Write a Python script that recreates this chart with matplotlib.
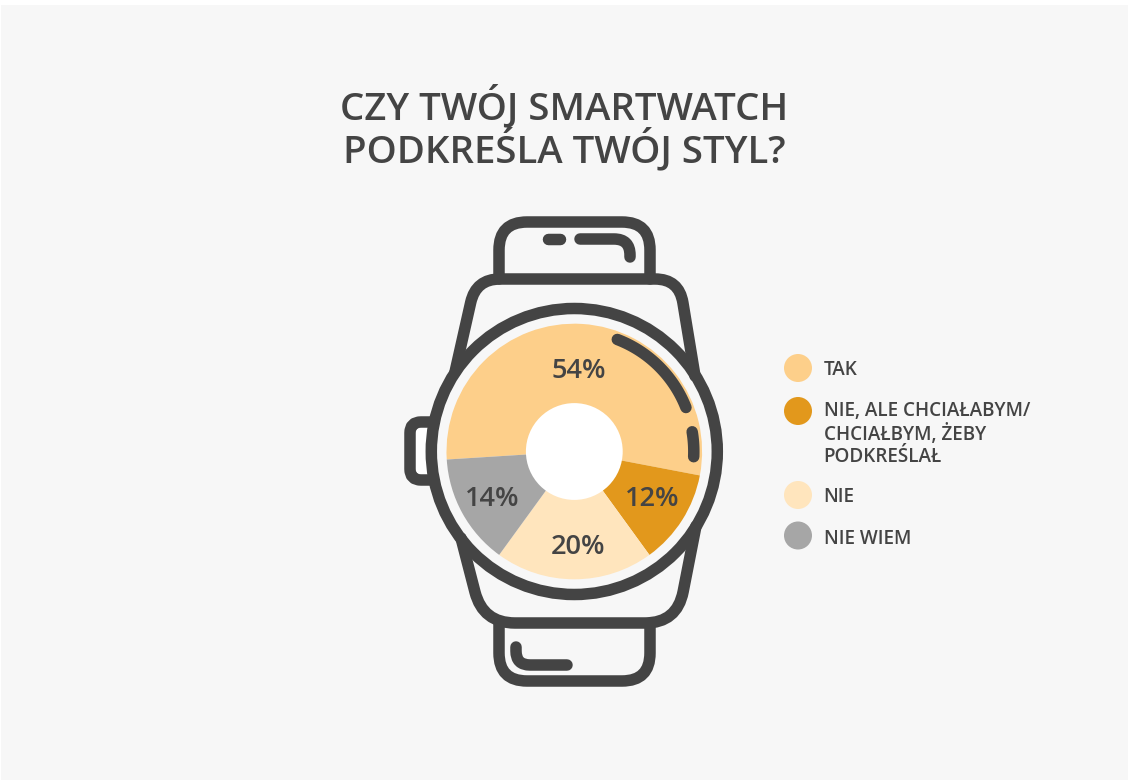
import matplotlib
matplotlib.use("Agg")
import matplotlib.pyplot as plt
from matplotlib.patches import Circle, PathPatch, Rectangle
from matplotlib.path import Path
import numpy as np

categories = ["TAK", "NIE, ALE CHCIAŁABYM/\nCHCIAŁBYM, ŻEBY\nPODKREŚLAŁ", "NIE", "NIE WIEM"]
values = [54, 12, 20, 14]
colors = ["#FDCF8A", "#E2981C", "#FFE5BD", "#A6A6A6"]
title = "CZY TWÓJ SMARTWATCH\nPODKREŚLA TWÓJ STYL?"
dark = "#444444"
W, H = 1128, 780

plt.rcParams['font.family'] = ['Open Sans', 'DejaVu Sans']
fig = plt.figure(figsize=(W/100, H/100), dpi=100, facecolor="white")
ax = fig.add_axes([0, 0, 1, 1])
ax.set_xlim(0, W); ax.set_ylim(H, 0); ax.axis("off")
ax.add_patch(Rectangle((1, 5), W-1, H-5, fc="#F7F7F7", ec="none", zorder=0))

cx, cy, R, hole = 574.3, 451.5, 127.8, 48.4
wedges, _ = ax.pie(values, colors=colors, startangle=183.6, counterclock=False,
                   center=(cx, cy), radius=R, frame=False,
                   wedgeprops=dict(linewidth=0))
ax.set_xlim(0, W); ax.set_ylim(H, 0); ax.set_aspect("auto")
# the y axis is inverted, so the wedges are mirrored to keep the clockwise order on screen
for w in wedges:
    t1, t2 = w.theta1, w.theta2
    w.set_theta1(-t2); w.set_theta2(-t1)
    w.set_zorder(2)
ax.add_patch(Circle((cx, cy), hole, fc="white", ec="none", zorder=3))

lw_px = 11.5
lw = lw_px * 72 / 100

def stroke(verts, codes=None, width=lw, z=4, fill="none"):
    p = Path(verts, codes) if codes else Path(verts)
    ax.add_patch(PathPatch(p, fc=fill, ec=dark, lw=width, capstyle="round", joinstyle="round", zorder=z))

def rounded(pts, closed=False):
    """pts: list of (x, y, r); corners rounded with a quadratic curve"""
    n = len(pts)
    verts, codes = [], []
    for i, (x, y, r) in enumerate(pts):
        p = np.array([x, y], float)
        if r == 0 or (not closed and i in (0, n-1)):
            verts.append(p); codes.append(Path.MOVETO if i == 0 else Path.LINETO)
            continue
        a = np.array(pts[(i-1) % n][:2], float); b = np.array(pts[(i+1) % n][:2], float)
        s = p + (a-p)/np.linalg.norm(a-p)*r; e = p + (b-p)/np.linalg.norm(b-p)*r
        verts.append(s); codes.append(Path.MOVETO if (i == 0) else Path.LINETO)
        verts += [p, e]; codes += [Path.CURVE3, Path.CURVE3]
    if closed:
        verts.append(verts[0]); codes.append(Path.LINETO)
    return verts, codes

# outer bezel
ax.add_patch(Circle((cx, cy), 143, fc="none", ec=dark, lw=lw, zorder=4))

# case, upper and lower
stroke(*rounded([(455, 372, 0), (476, 279, 24), (679, 279, 24), (695, 376, 0)]))
stroke(*rounded([(461, 538, 0), (483, 623, 32), (677, 623, 32), (696, 526, 0)]))

# strap, upper and lower
stroke(*rounded([(499, 279, 0), (499, 222, 28), (650, 222, 28), (650, 279, 0)]))
stroke(*rounded([(499, 623, 0), (499, 681, 28), (650, 681, 28), (650, 623, 0)]))

# strap highlights
stroke([(548, 239), (560, 239)])
stroke(*rounded([(580, 239, 0), (630, 239, 16), (630, 257, 0)]))
stroke(*rounded([(516, 647, 0), (516, 665, 14), (567, 665, 0)]))

# crown
stroke(*rounded([(431, 422, 0), (410, 422, 11), (410, 480, 11), (431, 480, 0)]), fill="white", z=1)

# inner arcs on the dial
def arc(a0, a1, r=120):
    th = np.radians(np.linspace(a0, a1, 60))
    return np.c_[cx + r*np.cos(th), cy - r*np.sin(th)]
stroke(arc(69, 21.5))
stroke(arc(9.5, -2.5, 119.5))

# value labels
for (x, y), v in zip([(578.5, 371), (492, 498.5), (578.5, 546.5), (652.5, 498.5)],
                     [values[0], values[3], values[2], values[1]]):
    ax.text(x, y, f"{v}%", ha="center", va="center", fontsize=19.6, fontweight=600, color=dark, zorder=5)

# legend
for (y, ty), c, t in zip([(368, 370), (411, 434), (495, 497.5), (535.5, 539)], colors, categories):
    ax.add_patch(Circle((798, y), 14, fc=c, ec="none", zorder=2))
    ax.text(823.5, ty, t, ha="left", va="center", fontsize=13.6, fontweight=600, color=dark,
            linespacing=1.16, zorder=5)

# title
for line, y in zip(title.split("\n"), [107, 150]):
    ax.text(564, y, line, ha="center", va="center", fontsize=27.6, fontweight=600, color=dark, zorder=5)

fig.savefig("out.png", dpi=100, facecolor="white")
